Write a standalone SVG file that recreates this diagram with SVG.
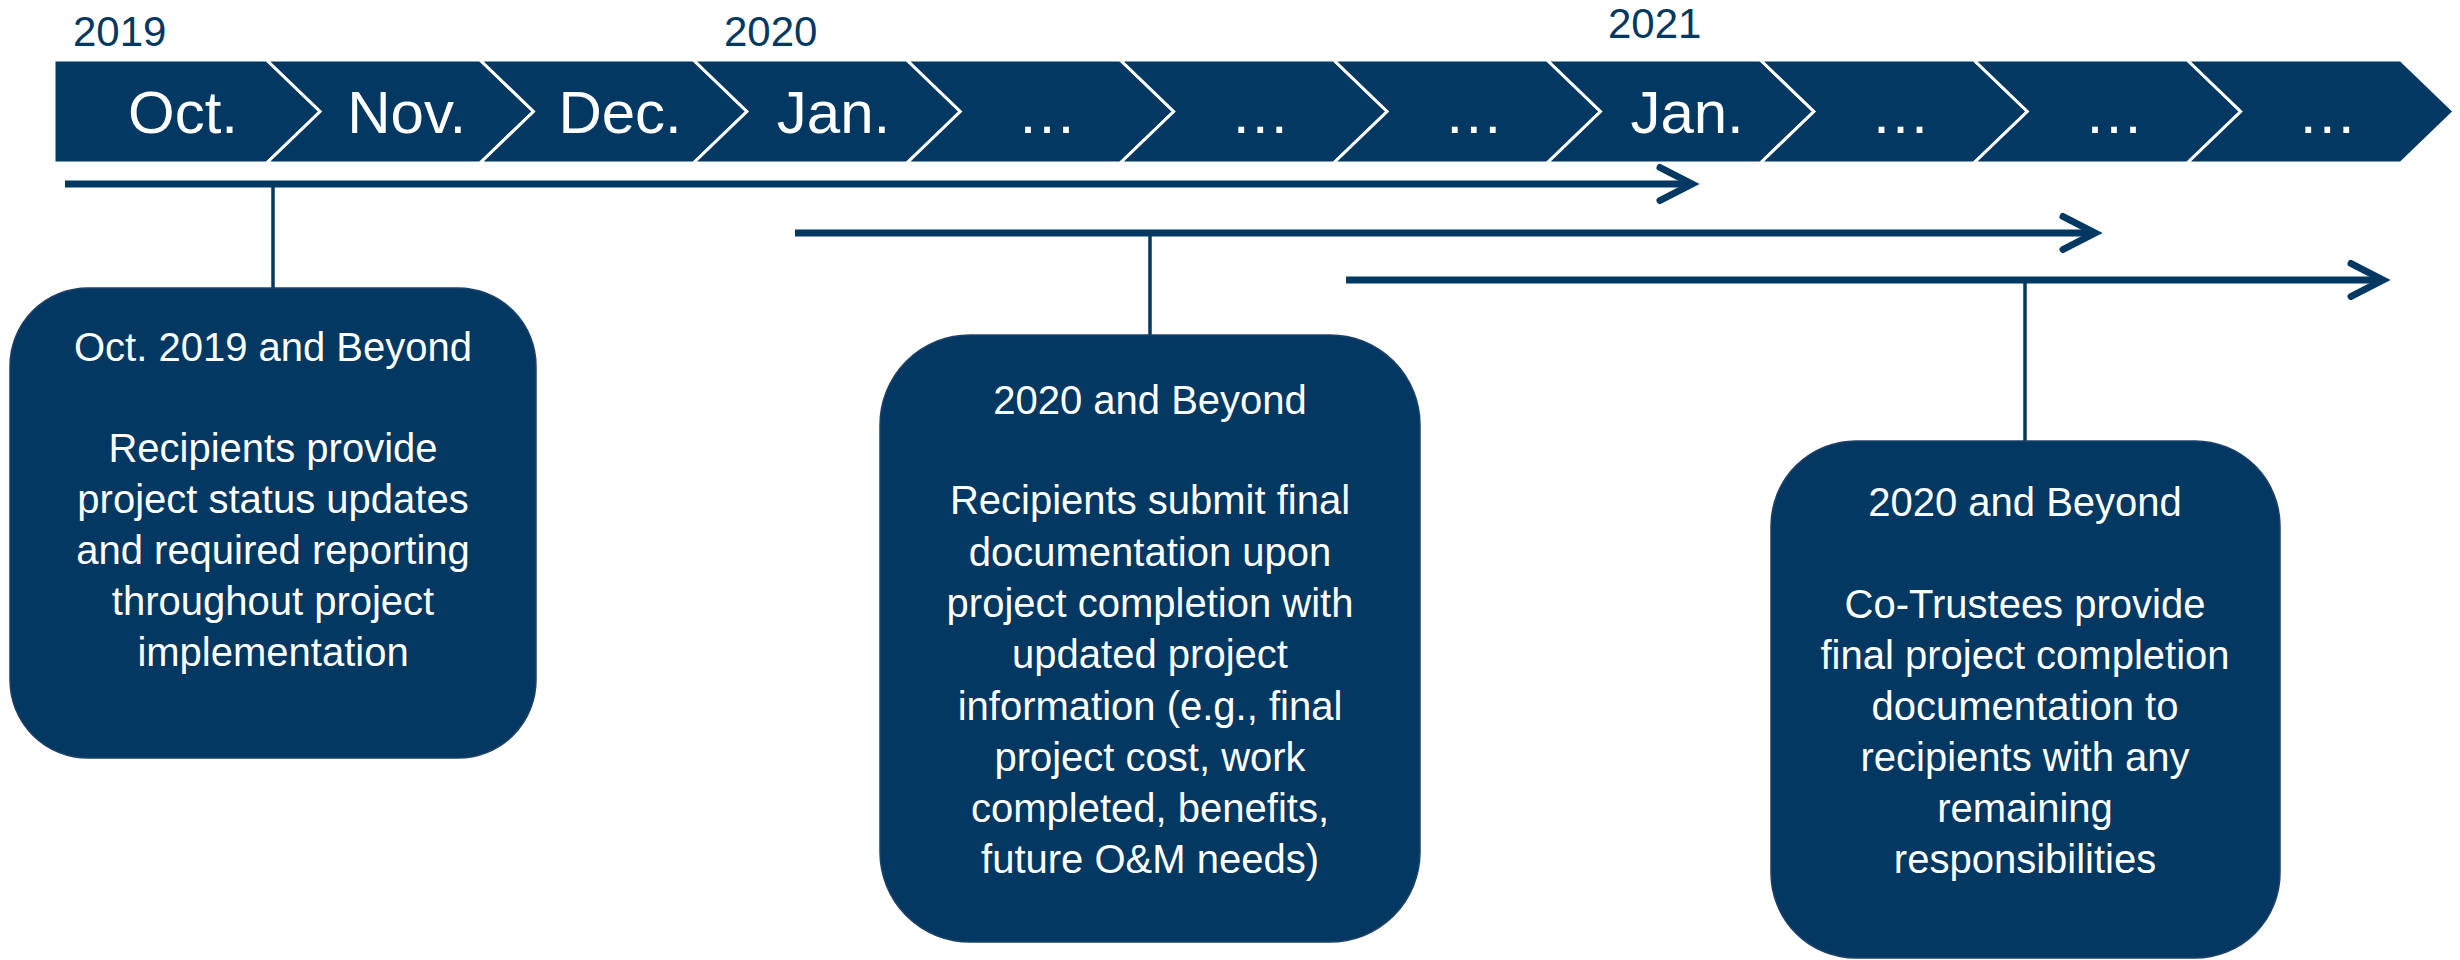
<svg xmlns="http://www.w3.org/2000/svg" width="2460" height="960" viewBox="0 0 2460 960">
  <style>
    .seg { fill: #023862; stroke: #ffffff; stroke-width: 3; stroke-linejoin: miter; }
    .mon { font-family: 'Liberation Sans', Arial, sans-serif; font-size: 60px; fill: #ffffff; text-anchor: middle; }
    .yr { font-family: 'Liberation Sans', Arial, sans-serif; font-size: 42px; fill: #023862; }
    .box { fill: #023862; stroke: #1d4168; stroke-width: 1.5; }
    .bt { font-family: 'Liberation Sans', Arial, sans-serif; font-size: 40px; fill: #ffffff; text-anchor: middle; }
    .span { stroke: #023862; stroke-width: 7; fill: none; marker-end: url(#ah); }
    .tick { stroke: #023862; stroke-width: 3.5; fill: none; }
  </style>
  <defs>
    <marker id="ah" markerUnits="userSpaceOnUse" viewBox="-45 -25 60 50" refX="0" refY="0" markerWidth="60" markerHeight="50" orient="auto" overflow="visible">
      <polyline points="-32,-16.5 0,0 -32,16.5" fill="none" stroke="#023862" stroke-width="7" stroke-linecap="round" stroke-linejoin="miter"/>
    </marker>
  </defs>
  <rect width="2460" height="960" fill="#ffffff"/>

  <g id="years">
    <text class="yr" x="73" y="46">2019</text>
    <text class="yr" x="724" y="46">2020</text>
    <text class="yr" x="1608" y="38">2021</text>
  </g>

  <g id="timeline">
    <g id="m1"><polygon class="seg" points="54,60 266.7,60 320.1,111.5 266.7,163 54,163"/><text class="mon" x="183" y="133">Oct.</text></g>
    <g id="m2"><polygon class="seg" points="266.7,60 480.1,60 533.5,111.5 480.1,163 266.7,163 320.1,111.5"/><text class="mon" x="406.7" y="133">Nov.</text></g>
    <g id="m3"><polygon class="seg" points="480.1,60 693.5,60 746.9,111.5 693.5,163 480.1,163 533.5,111.5"/><text class="mon" x="620.1" y="133">Dec.</text></g>
    <g id="m4"><polygon class="seg" points="693.5,60 906.9,60 960.3,111.5 906.9,163 693.5,163 746.9,111.5"/><text class="mon" x="833.5" y="133">Jan.</text></g>
    <g id="m5"><polygon class="seg" points="906.9,60 1120.3,60 1173.7,111.5 1120.3,163 906.9,163 960.3,111.5"/><text class="mon" x="1046.9" y="133">…</text></g>
    <g id="m6"><polygon class="seg" points="1120.3,60 1333.7,60 1387.1,111.5 1333.7,163 1120.3,163 1173.7,111.5"/><text class="mon" x="1260.3" y="133">…</text></g>
    <g id="m7"><polygon class="seg" points="1333.7,60 1547.1,60 1600.5,111.5 1547.1,163 1333.7,163 1387.1,111.5"/><text class="mon" x="1473.7" y="133">…</text></g>
    <g id="m8"><polygon class="seg" points="1547.1,60 1760.5,60 1813.9,111.5 1760.5,163 1547.1,163 1600.5,111.5"/><text class="mon" x="1687.1" y="133">Jan.</text></g>
    <g id="m9"><polygon class="seg" points="1760.5,60 1973.9,60 2027.3,111.5 1973.9,163 1760.5,163 1813.9,111.5"/><text class="mon" x="1900.5" y="133">…</text></g>
    <g id="m10"><polygon class="seg" points="1973.9,60 2187.3,60 2240.7,111.5 2187.3,163 1973.9,163 2027.3,111.5"/><text class="mon" x="2113.9" y="133">…</text></g>
    <g id="m11"><polygon class="seg" points="2187.3,60 2400.7,60 2454.1,111.5 2400.7,163 2187.3,163 2240.7,111.5"/><text class="mon" x="2327.3" y="133">…</text></g>
  </g>

  <g id="connectors">
    <line class="span" x1="65" y1="184" x2="1692" y2="184"/>
    <line class="span" x1="795" y1="233" x2="2095" y2="233"/>
    <line class="span" x1="1346" y1="280" x2="2383" y2="280"/>
    <line class="tick" x1="273" y1="187" x2="273" y2="289"/>
    <line class="tick" x1="1150" y1="236" x2="1150" y2="336"/>
    <line class="tick" x1="2025" y1="283" x2="2025" y2="442"/>
  </g>

  <g id="box1">
    <rect class="box" x="10" y="288" width="526" height="470" rx="78" ry="78"/>
    <text class="bt" x="273" y="361">Oct. 2019 and Beyond</text>
    <text class="bt" x="273" y="462">Recipients provide</text>
    <text class="bt" x="273" y="513">project status updates</text>
    <text class="bt" x="273" y="564">and required reporting</text>
    <text class="bt" x="273" y="615">throughout project</text>
    <text class="bt" x="273" y="666">implementation</text>
  </g>

  <g id="box2">
    <rect class="box" x="880" y="335" width="540" height="607" rx="90" ry="90"/>
    <text class="bt" x="1150" y="414">2020 and Beyond</text>
    <text class="bt" x="1150" y="514">Recipients submit final</text>
    <text class="bt" x="1150" y="566">documentation upon</text>
    <text class="bt" x="1150" y="617">project completion with</text>
    <text class="bt" x="1150" y="668">updated project</text>
    <text class="bt" x="1150" y="720">information (e.g., final</text>
    <text class="bt" x="1150" y="771">project cost, work</text>
    <text class="bt" x="1150" y="822">completed, benefits,</text>
    <text class="bt" x="1150" y="873">future O&amp;M needs)</text>
  </g>

  <g id="box3">
    <rect class="box" x="1771" y="441" width="509" height="517" rx="85" ry="85"/>
    <text class="bt" x="2025" y="516">2020 and Beyond</text>
    <text class="bt" x="2025" y="618">Co-Trustees provide</text>
    <text class="bt" x="2025" y="669">final project completion</text>
    <text class="bt" x="2025" y="720">documentation to</text>
    <text class="bt" x="2025" y="771">recipients with any</text>
    <text class="bt" x="2025" y="822">remaining</text>
    <text class="bt" x="2025" y="873">responsibilities</text>
  </g>
</svg>
